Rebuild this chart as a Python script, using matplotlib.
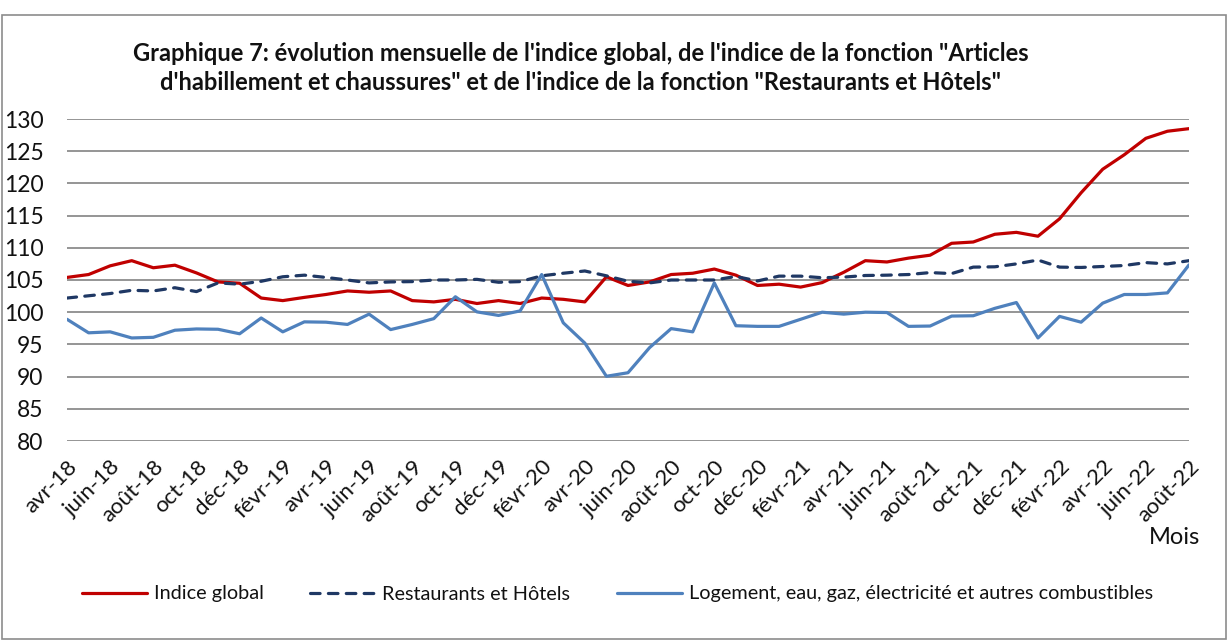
import matplotlib
matplotlib.use("Agg")
import matplotlib.pyplot as plt
from matplotlib.patches import Rectangle

plt.rcParams['font.family'] = ['Lato', 'DejaVu Sans']

months = ["avr-18", "mai-18", "juin-18", "juil-18", "août-18", "sept-18", "oct-18", "nov-18", "déc-18",
          "janv-19", "févr-19", "mars-19", "avr-19", "mai-19", "juin-19", "juil-19", "août-19", "sept-19",
          "oct-19", "nov-19", "déc-19", "janv-20", "févr-20", "mars-20", "avr-20", "mai-20", "juin-20",
          "juil-20", "août-20", "sept-20", "oct-20", "nov-20", "déc-20", "janv-21", "févr-21", "mars-21",
          "avr-21", "mai-21", "juin-21", "juil-21", "août-21", "sept-21", "oct-21", "nov-21", "déc-21",
          "janv-22", "févr-22", "mars-22", "avr-22", "mai-22", "juin-22", "juil-22", "août-22"]

indice_global = [105.4, 105.85, 107.2, 108.0, 106.9, 107.3, 106.1, 104.7, 104.5, 102.2, 101.8, 102.3,
                 102.75, 103.3, 103.1, 103.3, 101.8, 101.6, 102.0, 101.35, 101.8, 101.35, 102.2, 102.0,
                 101.6, 105.5, 104.15, 104.7, 105.85, 106.05, 106.7, 105.75, 104.15, 104.35, 103.9, 104.6,
                 106.2, 108.0, 107.8, 108.4, 108.85, 110.7, 110.9, 112.1, 112.4, 111.8, 114.5, 118.55,
                 122.2, 124.45, 127.0, 128.1, 128.5]

restaurants_hotels = [102.2, 102.55, 102.9, 103.4, 103.3, 103.8, 103.2, 104.55, 104.35, 104.8, 105.5, 105.75,
                      105.4, 105.0, 104.55, 104.7, 104.75, 105.0, 105.0, 105.1, 104.65, 104.75, 105.65, 106.05,
                      106.4, 105.65, 104.8, 104.55, 105.0, 105.0, 105.0, 105.55, 104.85, 105.6, 105.6, 105.35,
                      105.45, 105.7, 105.75, 105.85, 106.15, 106.0, 107.0, 107.05, 107.5, 108.1, 107.0, 106.95,
                      107.1, 107.25, 107.7, 107.5, 108.0]

logement = [98.9, 96.8, 96.95, 96.0, 96.1, 97.2, 97.4, 97.35, 96.65, 99.1, 96.95, 98.5,
            98.45, 98.1, 99.7, 97.3, 98.1, 99.0, 102.4, 100.05, 99.5, 100.2, 105.85, 98.35,
            95.2, 90.05, 90.6, 94.5, 97.45, 96.95, 104.55, 97.9, 97.8, 97.8, 98.9, 100.0,
            99.7, 100.0, 99.95, 97.8, 97.85, 99.4, 99.45, 100.6, 101.5, 96.0, 99.35, 98.45,
            101.4, 102.75, 102.75, 103.0, 107.35]

y_ticks = [80, 85, 90, 95, 100, 105, 110, 115, 120, 125, 130]

title_line1 = 'Graphique 7: évolution mensuelle de l\'indice global, de l\'indice de la fonction "Articles'
title_line2 = 'd\'habillement et chaussures" et de l\'indice de la fonction "Restaurants et Hôtels"'

W, H = 1229, 640
fig = plt.figure(figsize=(W / 100, H / 100), dpi=100)
ax = fig.add_axes([67 / W, 1 - 441 / H, (1189 - 67) / W, (441 - 119) / H])

x = list(range(len(months)))
ax.plot(x, indice_global, color='#C00000', lw=2.3, label='Indice global', solid_capstyle='round', zorder=3)
ax.plot(x, restaurants_hotels, color='#1F3864', lw=2.3, dashes=(3.0, 2.6), dash_capstyle='round',
        label='Restaurants et Hôtels', zorder=3)
ax.plot(x, logement, color='#4F81BD', lw=2.3, label='Logement, eau, gaz, électricité et autres combustibles',
        solid_capstyle='round', zorder=3)

ax.set_xlim(0, len(months) - 1)
ax.set_ylim(80, 130)
ax.set_yticks(y_ticks)
ax.set_yticklabels([str(v) for v in y_ticks], fontsize=16.5, color='#111111')
ax.set_xticks(x[::2])
ax.set_xticklabels(months[::2], rotation=45, ha='right', rotation_mode='anchor', fontsize=16, color='#111111')
ax.tick_params(axis='both', length=0)
ax.tick_params(axis='y', pad=17)
ax.tick_params(axis='x', pad=11)
ax.grid(axis='y', color='#8C8C8C', lw=1.3)
ax.set_axisbelow(True)
for s in ax.spines.values():
    s.set_visible(False)

fig.text(581 / W, 1 - 61 / H, title_line1, ha='center', va='baseline', fontsize=17, fontweight='bold',
         color='#111111')
fig.text(581 / W, 1 - 90 / H, title_line2, ha='center', va='baseline', fontsize=17, fontweight='bold',
         color='#111111')

fig.text(1200 / W, 1 - 537 / H, 'Mois', ha='right', va='center', fontsize=17, color='#111111')

leg = fig.legend(loc='center', bbox_to_anchor=(617.5 / W, 1 - 594 / H), ncol=3, frameon=False,
                 fontsize=14.3, handlelength=3.27, handletextpad=0.35, columnspacing=2.36)
for t in leg.get_texts():
    t.set_color('#111111')

fig.patches.append(Rectangle((2 / W, 1 / H), 1224 / W, (624) / H, transform=fig.transFigure,
                             fill=False, edgecolor='#8C8C8C', lw=1.2))

fig.savefig('out.png', dpi=100, facecolor='white')
